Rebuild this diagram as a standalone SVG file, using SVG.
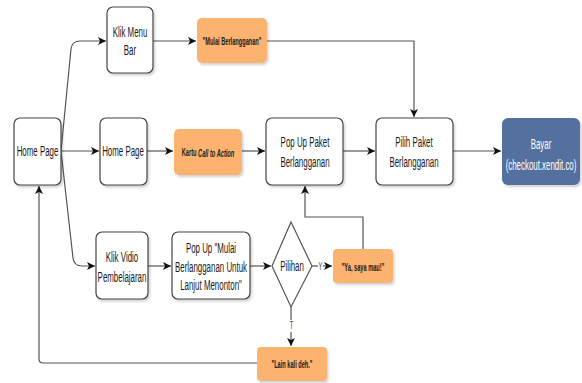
<svg xmlns="http://www.w3.org/2000/svg" width="582" height="383" viewBox="0 0 582 383">
<defs>
<marker id="arr" markerUnits="userSpaceOnUse" markerWidth="9" markerHeight="8" refX="8" refY="4" orient="auto">
<path d="M0,0 L8,4 L0,8 L2,4 Z" fill="#111"/>
</marker>
<filter id="sh" x="-10%" y="-10%" width="130%" height="130%">
<feDropShadow dx="1.5" dy="2" stdDeviation="1.2" flood-color="#000" flood-opacity="0.18"/>
</filter>
<style>
.box{fill:#fff;stroke:#444;stroke-width:1.2;filter:url(#sh)}
.org{fill:#fdb36f;stroke:none;filter:url(#sh)}
.blue{fill:#52709e;stroke:none;filter:url(#sh)}
.t{font-family:"Liberation Sans",Arial,sans-serif;font-size:14px;fill:#1a1a1a;text-anchor:middle;dominant-baseline:central}
.s{font-family:"Liberation Sans",Arial,sans-serif;font-size:10px;font-weight:bold;fill:#1a1a1a;text-anchor:middle;dominant-baseline:central}
.w{fill:#fff}
.c{fill:none;stroke:#555;stroke-width:1.2;marker-end:url(#arr)}
.lb{font-family:"Liberation Sans",Arial,sans-serif;font-size:10px;fill:#444;text-anchor:middle;dominant-baseline:central}
</style>
</defs>
<g id="connectors">
<path class="c" d="M61,151 L71,49 Q72,41 80,41 L106,41"/>
<path class="c" d="M61,151 L99,151"/>
<path class="c" d="M61,151 L73,258 Q74,266 82,266 L95,266"/>
<path class="c" d="M153,41 L196,41"/>
<path class="c" d="M267,41 L414,41 L414,117"/>
<path class="c" d="M147,151 L173,151"/>
<path class="c" d="M242,151 L265,151"/>
<path class="c" d="M343,151 L375,151"/>
<path class="c" d="M453,151 L501,151"/>
<path class="c" d="M148,266 L171,266"/>
<path class="c" d="M250,266 L271,266"/>
<path class="c" d="M312,266 L332,266"/>
<path class="c" d="M291,307 L291,346"/>
<path class="c" d="M363,249 L363,217 L305,217 L305,186"/>
<path class="c" d="M257,363 L43,363 Q39,363 39,359 L39,186"/>
<rect x="318" y="260" width="5" height="12" fill="#fff"/>
<text class="lb" transform="translate(320.5,267) scale(.565,1)">Y</text>
<rect x="289" y="320" width="5" height="12" fill="#fff"/>
<text class="lb" transform="translate(291.5,326) scale(.565,1)">T</text>
</g>
<g id="home1">
<rect class="box" x="14" y="118" width="47" height="67" rx="6"/>
<text class="t" transform="translate(37.5,151) scale(.565,1)">Home Page</text>
</g>
<g id="klikmenu">
<rect class="box" x="107" y="7" width="46" height="66" rx="6"/>
<text class="t" transform="translate(130,32) scale(.565,1)">Klik Menu</text>
<text class="t" transform="translate(130,50) scale(.565,1)">Bar</text>
</g>
<g id="mulai">
<rect class="org" x="197" y="18" width="70" height="45" rx="5"/>
<text class="s" transform="translate(232,42) scale(.565,1)">"Mulai Berlangganan"</text>
</g>
<g id="home2">
<rect class="box" x="100" y="118" width="47" height="67" rx="6"/>
<text class="t" transform="translate(123,151) scale(.565,1)">Home Page</text>
</g>
<g id="kartu">
<rect class="org" x="174" y="129" width="68" height="46" rx="5"/>
<text class="s" transform="translate(208,153) scale(.565,1)">Kartu <tspan font-style="italic">Call to Action</tspan></text>
</g>
<g id="popuppaket">
<rect class="box" x="266" y="118" width="77" height="67" rx="6"/>
<text class="t" transform="translate(305,142) scale(.565,1)">Pop Up Paket</text>
<text class="t" transform="translate(305,162) scale(.565,1)">Berlangganan</text>
</g>
<g id="pilihpaket">
<rect class="box" x="376" y="118" width="77" height="67" rx="6"/>
<text class="t" transform="translate(414,142) scale(.565,1)">Pilih Paket</text>
<text class="t" transform="translate(414,162) scale(.565,1)">Berlangganan</text>
</g>
<g id="bayar">
<rect class="blue" x="502" y="118" width="78" height="67" rx="6"/>
<text class="t w" transform="translate(541,144) scale(.565,1)">Bayar</text>
<text class="t w" transform="translate(541,165) scale(.565,1)">(checkout.xendit.co)</text>
</g>
<g id="klikvidio">
<rect class="box" x="96" y="232" width="52" height="67" rx="6"/>
<text class="t" transform="translate(122,257) scale(.565,1)">Klik Vidio</text>
<text class="t" transform="translate(122,277) scale(.565,1)">Pembelajaran</text>
</g>
<g id="popupmulai">
<rect class="box" x="172" y="232" width="78" height="67" rx="6"/>
<text class="t" transform="translate(211,248) scale(.565,1)">Pop Up "Mulai</text>
<text class="t" transform="translate(211,267) scale(.565,1)">Berlangganan Untuk</text>
<text class="t" transform="translate(211,285) scale(.565,1)">Lanjut Menonton"</text>
</g>
<g id="pilihan">
<path d="M291,222 L312,266 L291,307 L272,266 Z" fill="#fff" stroke="#555" stroke-width="1.2"/>
<text class="t" transform="translate(292,266) scale(.565,1)">Pilihan</text>
</g>
<g id="ya">
<rect class="org" x="333" y="249" width="60" height="34" rx="4"/>
<text class="s" transform="translate(363,268) scale(.565,1)">"Ya, saya mau!"</text>
</g>
<g id="lain">
<rect class="org" x="257" y="347" width="70" height="34" rx="4"/>
<text class="s" transform="translate(292,365) scale(.565,1)">"Lain kali deh."</text>
</g>
</svg>
